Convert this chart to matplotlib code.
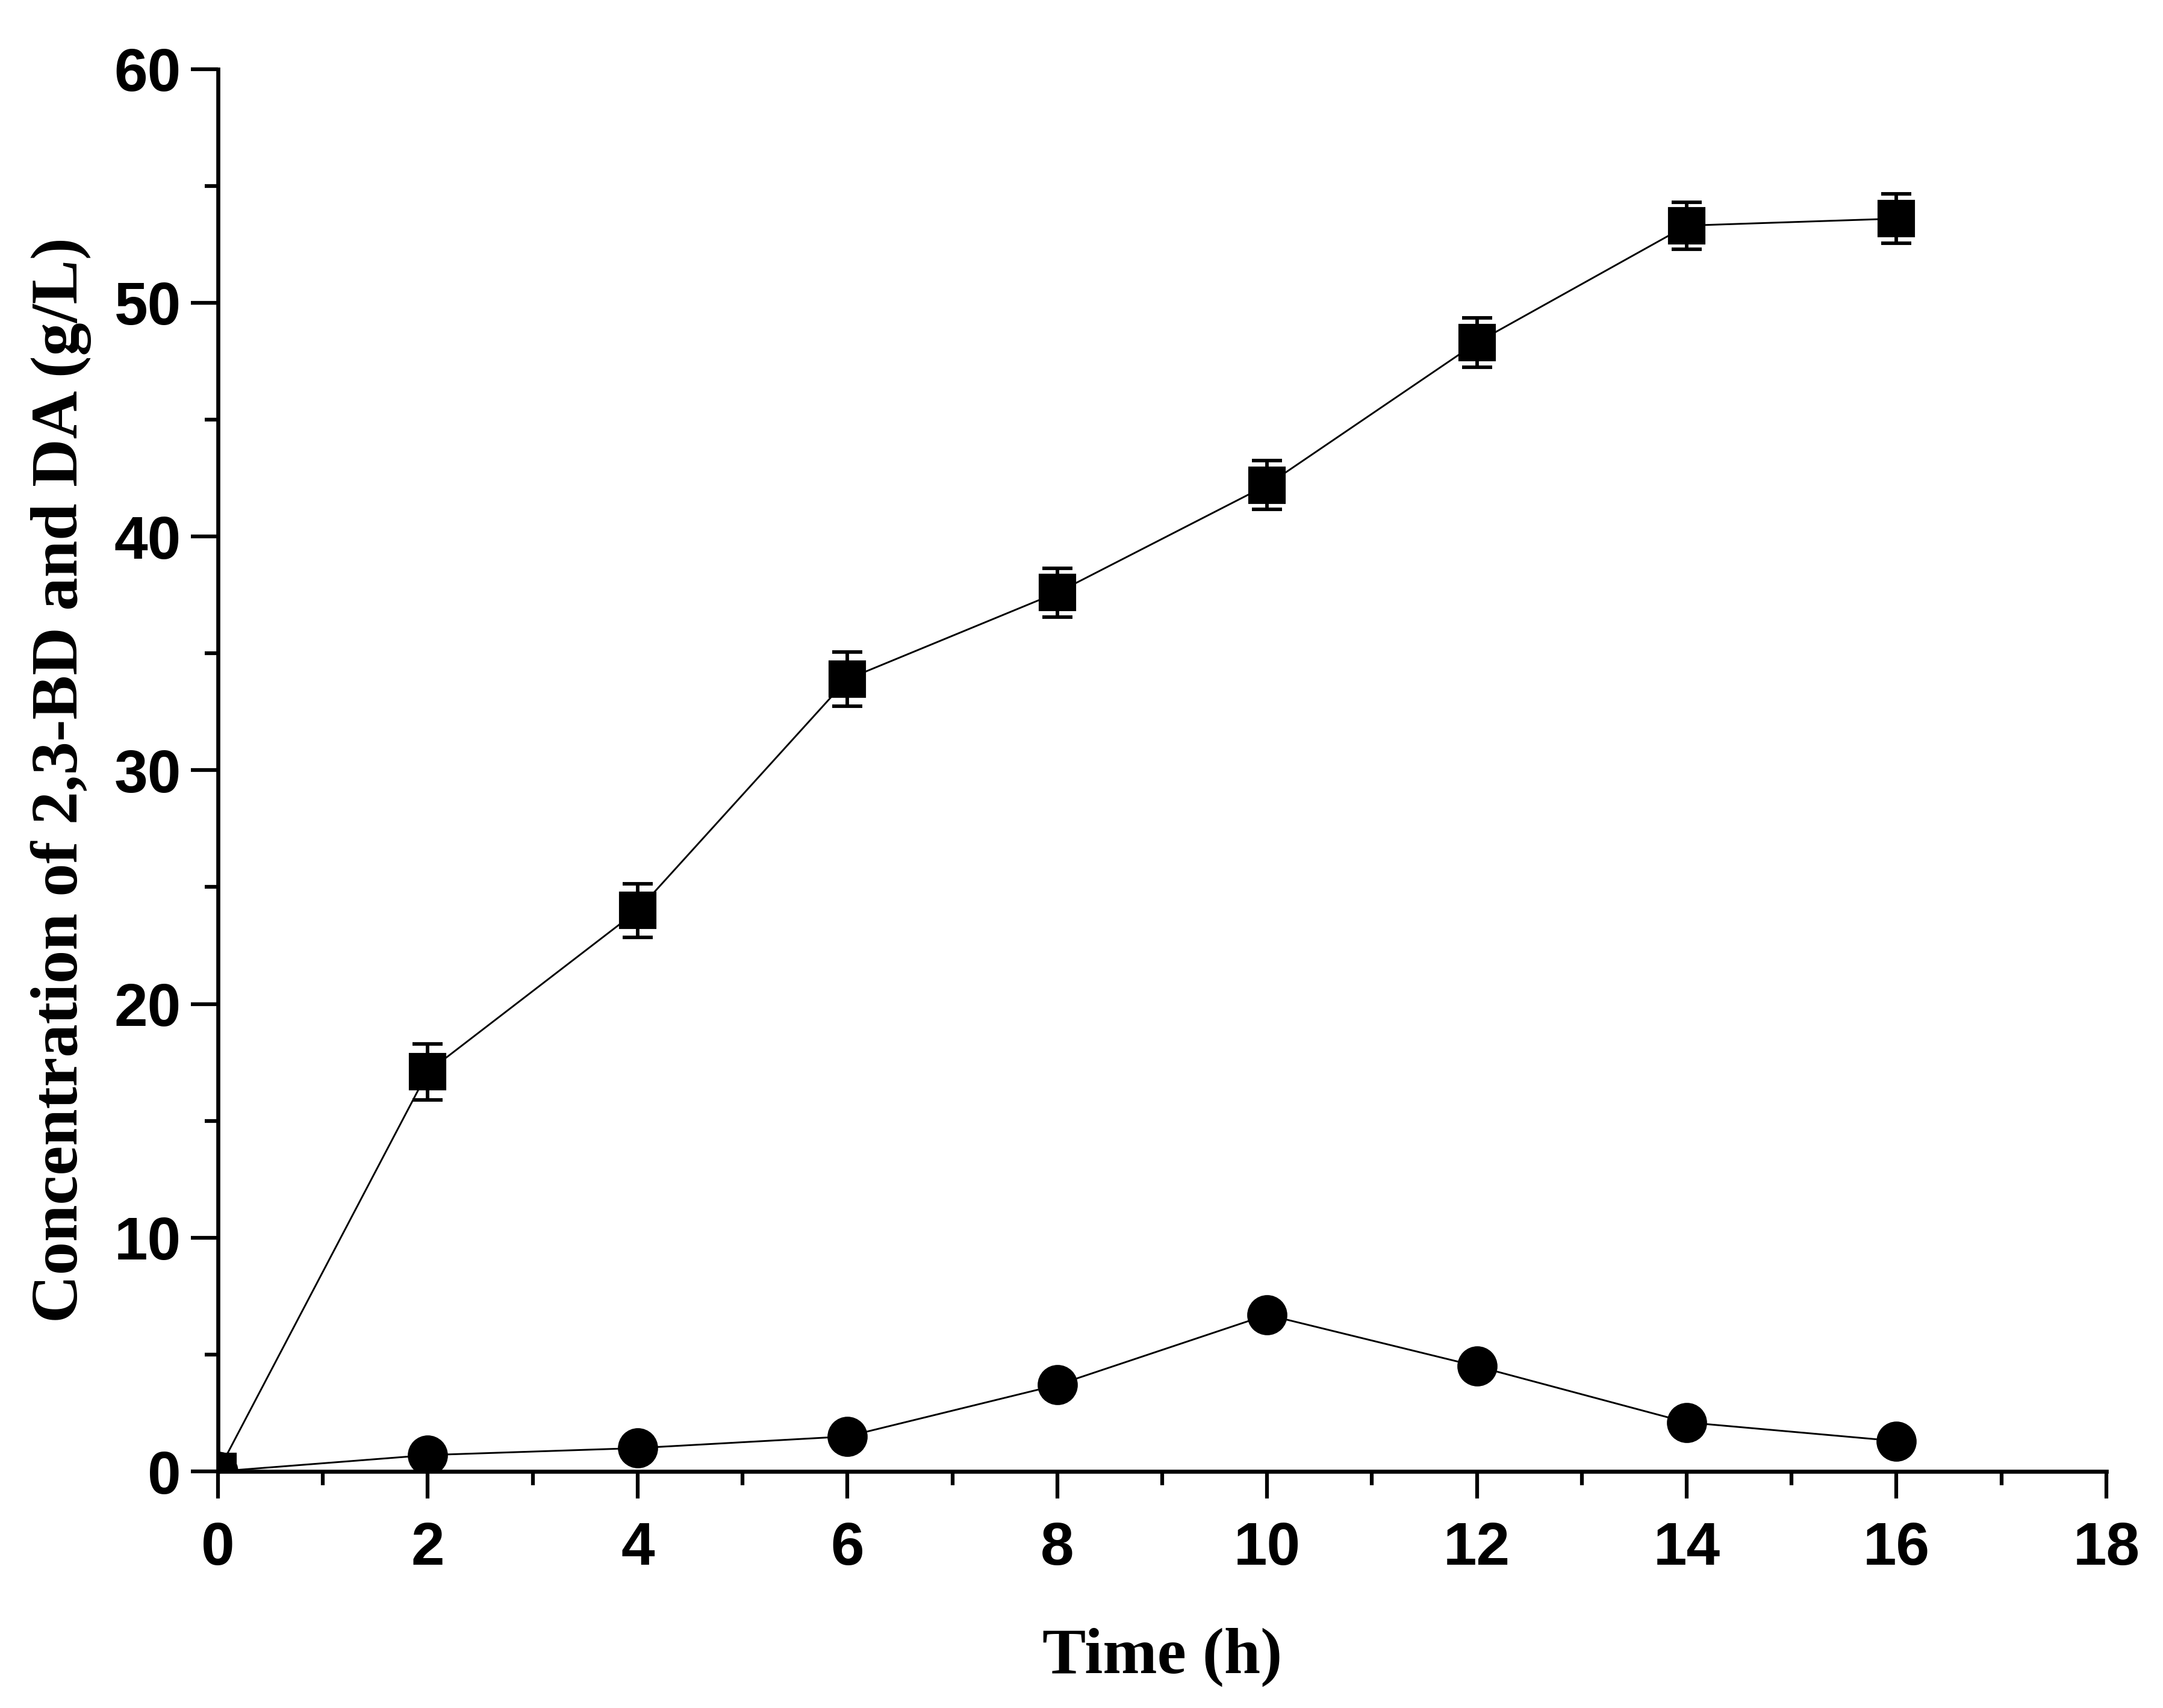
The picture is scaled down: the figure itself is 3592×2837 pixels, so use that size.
import numpy as np
import matplotlib
matplotlib.use("Agg")
import matplotlib.pyplot as plt
from matplotlib.ticker import MultipleLocator

# time points (h)
time_h = [0, 2, 4, 6, 8, 10, 12, 14, 16]
# 2,3-BD concentration (g/L), squares
bd = [0.0, 17.1, 24.0, 33.9, 37.6, 42.2, 48.3, 53.3, 53.6]
bd_err = [0.0, 1.2, 1.15, 1.15, 1.05, 1.05, 1.05, 1.0, 1.05]
# DA concentration (g/L), circles
da = [0.0, 0.7, 1.0, 1.5, 3.7, 6.7, 4.5, 2.1, 1.3]

xticks = [0, 2, 4, 6, 8, 10, 12, 14, 16, 18]
yticks = [0, 10, 20, 30, 40, 50, 60]

DPI = 300
fig = plt.figure(figsize=(3592 / DPI, 2837 / DPI), dpi=DPI)
ax = fig.add_axes([0.1008, 0.1385, 0.8730, 0.8211])

ax.errorbar(time_h, bd, yerr=bd_err, fmt="-s", color="black", lw=0.7,
            ms=14, mec="black", mfc="black", ecolor="black",
            elinewidth=1.4, capsize=6, capthick=1.4)
ax.plot(time_h, da, "-o", color="black", lw=0.7, ms=15)

ax.set_xlim(0, 18)
ax.set_ylim(0, 60)
ax.set_xticks(xticks)
ax.set_yticks(yticks)
ax.xaxis.set_minor_locator(MultipleLocator(1))
ax.yaxis.set_minor_locator(MultipleLocator(5))

for s in ("top", "right"):
    ax.spines[s].set_visible(False)
for s in ("left", "bottom"):
    ax.spines[s].set_linewidth(1.6)

ax.tick_params(which="major", direction="out", length=10.7, width=1.5,
               pad=4)
ax.tick_params(which="minor", direction="out", length=5.4, width=1.5)
ax.tick_params(axis="x", which="major", pad=9)

for lab in ax.get_xticklabels() + ax.get_yticklabels():
    lab.set_fontfamily("Liberation Sans")
    lab.set_fontweight("bold")
    lab.set_fontsize(24)

ax.set_xlabel("Time (h)", family="Liberation Serif", fontweight="bold",
              fontsize=26, labelpad=20)
ax.set_ylabel("Concentration of 2,3-BD and DA (g/L)", family="Liberation Serif",
              fontweight="bold", fontsize=26.5, labelpad=20)
ax.yaxis.set_label_coords(-0.067, 0.493)

fig.savefig("out.png", dpi=DPI, facecolor="white")
